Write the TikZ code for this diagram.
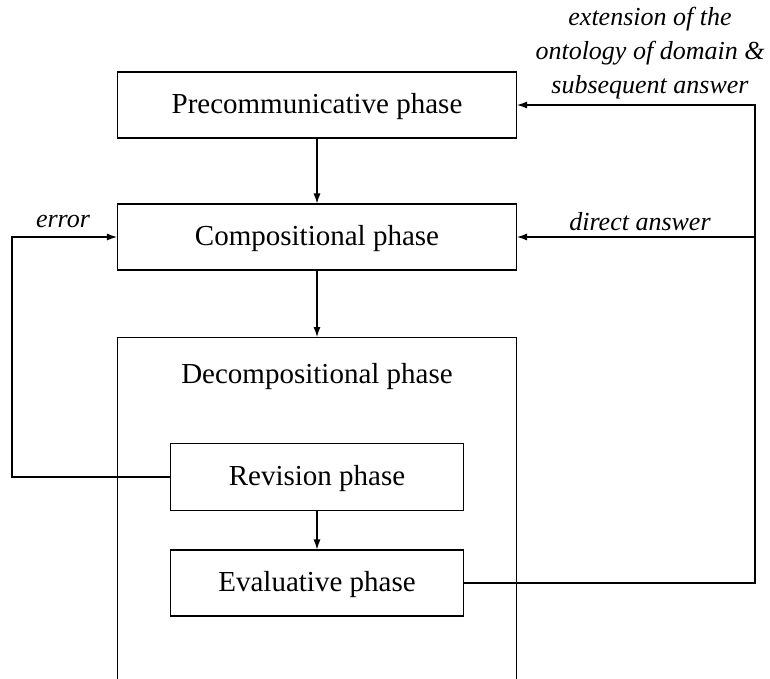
\documentclass[tikz,border=0pt]{standalone}
\usepackage{fontspec}
\setmainfont{Liberation Serif}
\usetikzlibrary{arrows.meta}
\begin{document}
\begin{tikzpicture}[x=1pt,y=-1pt,
  every node/.style={font=\fontsize{29}{34}\selectfont},
  phasebox/.style={draw, line width=1.1pt, minimum width=399pt, inner sep=0pt, text depth=0.25em},
  conn/.style={line width=1.1pt, -{Latex[length=10pt,width=7pt]}},
  lbl/.style={font=\fontsize{26}{34}\selectfont\itshape, inner sep=0pt}]
\useasboundingbox (0,0) rectangle (770,679);
\clip (0,0) rectangle (770,679);
\node[phasebox, minimum height=66pt] (pre) at (317,105) {Precommunicative phase};
\node[phasebox, minimum height=66pt] (comp) at (317,237) {Compositional phase};
\node[phasebox, minimum height=400pt, anchor=north] (dec) at (317,337) {};
\node[inner sep=0pt] (dectitle) at (317,377) {Decompositional phase};
\node[phasebox, minimum width=293pt, minimum height=67pt] (rev) at (317,477) {Revision phase};
\node[phasebox, minimum width=293pt, minimum height=66pt] (eva) at (317,583) {Evaluative phase};
\coordinate (el) at (12,477);
\coordinate (elt) at (12,237);
\coordinate (er) at (755,583);
\coordinate (ert) at (755,105);
\coordinate (erm) at (755,237);
\draw[conn] (pre) -- (comp);
\draw[conn] (comp) -- (dec.north);
\draw[conn] (rev) -- (eva);
\draw[conn] (rev.west) -- (el) -- (elt) -- (comp.west);
\draw[conn] (eva.east) -- (er) -- (ert) -- (pre.east);
\draw[conn] (erm) -- (comp.east);
\node[lbl] (errl) at (63,222) {error};
\node[lbl] (dal) at (640,222) {direct answer};
\node[lbl, align=center] (extl) at (650,53) {extension of the\\ontology of domain \&\\subsequent answer};
\end{tikzpicture}
\end{document}
